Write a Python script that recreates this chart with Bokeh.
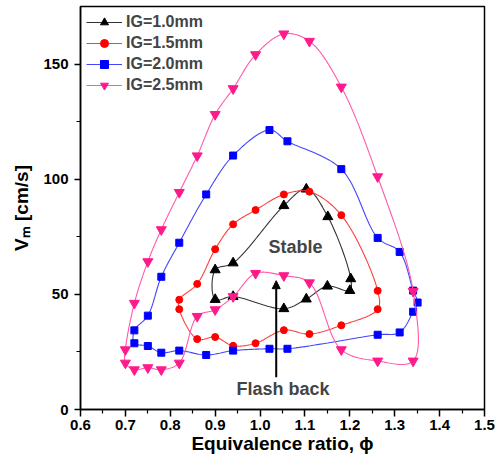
import numpy as np
from bokeh.plotting import figure
from bokeh.models import (FixedTicker, NumeralTickFormatter, Legend, LegendItem,
                          Label, Arrow, NormalHead)
from bokeh.embed import file_html
from bokeh.resources import INLINE

# ---- data ----
ig10_x = [0.90, 0.94, 1.053, 1.103, 1.151, 1.202, 1.20, 1.15, 1.103, 1.053, 0.94, 0.90]
ig10_y = [60.7, 63.7, 88.6, 95.8, 83.8, 56.8, 51.7, 53.6, 48.0, 43.8, 49.1, 47.8]

ig15_x = [0.82, 0.86, 0.90, 0.94, 0.99, 1.053, 1.11, 1.181, 1.262, 1.262, 1.181, 1.11, 1.053, 0.99, 0.94, 0.90, 0.86, 0.82]
ig15_y = [47.7, 54.6, 69.7, 80.5, 86.7, 93.5, 94.7, 84.5, 51.6, 43.6, 36.6, 32.8, 34.5, 28.8, 27.7, 31.5, 30.6, 43.6]

ig20_x = [0.72, 0.75, 0.78, 0.82, 0.88, 0.94, 1.021, 1.061, 1.181, 1.262, 1.311, 1.341, 1.351, 1.341, 1.311, 1.262,
          1.061, 1.021, 0.94, 0.88, 0.82, 0.78, 0.75, 0.72]
ig20_y = [34.4, 40.8, 57.7, 72.5, 93.5, 110.4, 121.5, 116.6, 104.5, 74.6, 68.5, 51.7, 46.5, 42.5, 33.5, 32.5,
          26.4, 26.4, 25.6, 23.7, 25.6, 24.7, 27.6, 28.8]

ig25_x = [0.70, 0.72, 0.75, 0.78, 0.82, 0.86, 0.90, 0.94, 0.99, 1.053, 1.11, 1.181, 1.262, 1.341, 1.341, 1.262,
          1.181, 1.11, 1.053, 0.99, 0.94, 0.90, 0.86, 0.82, 0.78, 0.75, 0.72, 0.70]
ig25_y = [26.0, 46.2, 64.3, 78.2, 94.4, 110.3, 128.3, 139.5, 154.3, 163.3, 160.1, 140.2, 101.2, 51.4, 21.1, 21.1,
          26.0, 55.1, 58.2, 59.2, 49.1, 43.4, 40.5, 20.2, 17.3, 18.2, 17.3, 20.2]

labels = ["IG=1.0mm", "IG=1.5mm", "IG=2.0mm", "IG=2.5mm"]
x_ticks = [0.6, 0.7, 0.8, 0.9, 1.0, 1.1, 1.2, 1.3, 1.4, 1.5]
x_minor = [0.65, 0.75, 0.85, 0.95, 1.05, 1.15, 1.25, 1.35, 1.45]
y_ticks = [0, 50, 100, 150]
y_minor = [25, 75, 125]

arrow_x = 1.036
arrow_y0, arrow_y1 = 14.0, 56.0

FONT = "Liberation Sans"


def smooth_closed(xs, ys, n=24, sx=449.0, sy=2.302):
    pts = np.column_stack([np.asarray(xs) * sx, np.asarray(ys) * sy])
    N = len(pts)
    out = []
    for i in range(N):
        p0, p1, p2, p3 = pts[(i - 1) % N], pts[i], pts[(i + 1) % N], pts[(i + 2) % N]
        t0 = 0.0
        t1 = t0 + np.linalg.norm(p1 - p0) ** 0.5
        t2 = t1 + np.linalg.norm(p2 - p1) ** 0.5
        t3 = t2 + np.linalg.norm(p3 - p2) ** 0.5
        for t in np.linspace(t1, t2, n, endpoint=False):
            a1 = (t1 - t) / (t1 - t0) * p0 + (t - t0) / (t1 - t0) * p1
            a2 = (t2 - t) / (t2 - t1) * p1 + (t - t1) / (t2 - t1) * p2
            a3 = (t3 - t) / (t3 - t2) * p2 + (t - t2) / (t3 - t2) * p3
            b1 = (t2 - t) / (t2 - t0) * a1 + (t - t0) / (t2 - t0) * a2
            b2 = (t3 - t) / (t3 - t1) * a2 + (t - t1) / (t3 - t1) * a3
            c = (t2 - t) / (t2 - t1) * b1 + (t - t1) / (t2 - t1) * b2
            out.append(c)
    out.append(out[0])
    out = np.array(out)
    return out[:, 0] / sx, out[:, 1] / sy


p = figure(width=496, height=468, x_range=(0.6, 1.5), y_range=(0, 175.2),
           output_backend="svg", toolbar_location=None,
           min_border_left=80, min_border_right=12, min_border_top=6, min_border_bottom=59)
p.xgrid.visible = False
p.ygrid.visible = False
p.outline_line_color = "black"
p.outline_line_width = 1.5

series = [
    (ig10_x, ig10_y, "triangle", 10, "#000000", "#333333"),
    (ig15_x, ig15_y, "circle", 7, "#ff0000", "#ff3b3b"),
    (ig20_x, ig20_y, "square", 7, "#0000ff", "#4545ff"),
    (ig25_x, ig25_y, "inverted_triangle", 10, "#ff1a8c", "#ff5aa8"),
]
items = []
for (xs, ys, mk, sz, mc, lc), lab in zip(series, labels):
    cx, cy = smooth_closed(xs, ys)
    lr = p.line(cx, cy, line_color=lc, line_width=1.1)
    sr = p.scatter(xs, ys, marker=mk, size=sz, fill_color=mc, line_color=mc)
    items.append(LegendItem(label=lab, renderers=[lr, sr]))

legend = Legend(items=items, location="top_left", margin=6, padding=5,
                spacing=1, glyph_width=36, glyph_height=20, label_height=20,
                label_standoff=4, border_line_color=None, background_fill_alpha=0,
                label_text_font=FONT, label_text_font_style="bold",
                label_text_font_size="16px")
p.add_layout(legend)

# axes
p.xaxis.ticker = FixedTicker(ticks=x_ticks, minor_ticks=x_minor)
p.yaxis.ticker = FixedTicker(ticks=y_ticks, minor_ticks=y_minor)
p.xaxis.formatter = NumeralTickFormatter(format="0.0")
p.yaxis.formatter = NumeralTickFormatter(format="0")
for ax in (p.xaxis, p.yaxis):
    ax.axis_line_width = 1.5
    ax.major_tick_line_width = 1.5
    ax.minor_tick_line_width = 1.2
    ax.major_tick_in = 0
    ax.minor_tick_in = 0
    ax.major_label_text_font = FONT
    ax.major_label_text_font_style = "bold"
    ax.major_label_text_font_size = "15px"
    ax.major_label_text_color = "black"
    ax.axis_label_text_font = FONT
    ax.axis_label_text_font_style = "bold"
    ax.axis_label_text_font_size = "19px"
    ax.axis_label_text_color = "black"
p.xaxis.major_tick_out = 7
p.xaxis.minor_tick_out = 4
p.yaxis.major_tick_out = 6
p.yaxis.minor_tick_out = 4
p.xaxis.major_label_standoff = 3
p.yaxis.major_label_standoff = 6
p.xaxis.axis_label = "Equivalence ratio, ϕ"
p.xaxis.axis_label_standoff = 0
p.yaxis.axis_label = "Vₘ [cm/s]"
p.yaxis.axis_label_standoff = 8

# annotations
p.add_layout(Label(x=1.079, y=70.8, text="Stable", text_align="center", text_baseline="middle",
                   text_font=FONT, text_font_style="bold", text_font_size="18px"))
p.add_layout(Label(x=1.051, y=9.1, text="Flash back", text_align="center", text_baseline="middle",
                   text_font=FONT, text_font_style="bold", text_font_size="18px"))
p.add_layout(Arrow(x_start=arrow_x, y_start=arrow_y0, x_end=arrow_x, y_end=arrow_y1,
                   line_width=2, line_color="black",
                   end=NormalHead(size=8, fill_color="black", line_color="black")))

open("out.html", "w").write(file_html(p, INLINE))
